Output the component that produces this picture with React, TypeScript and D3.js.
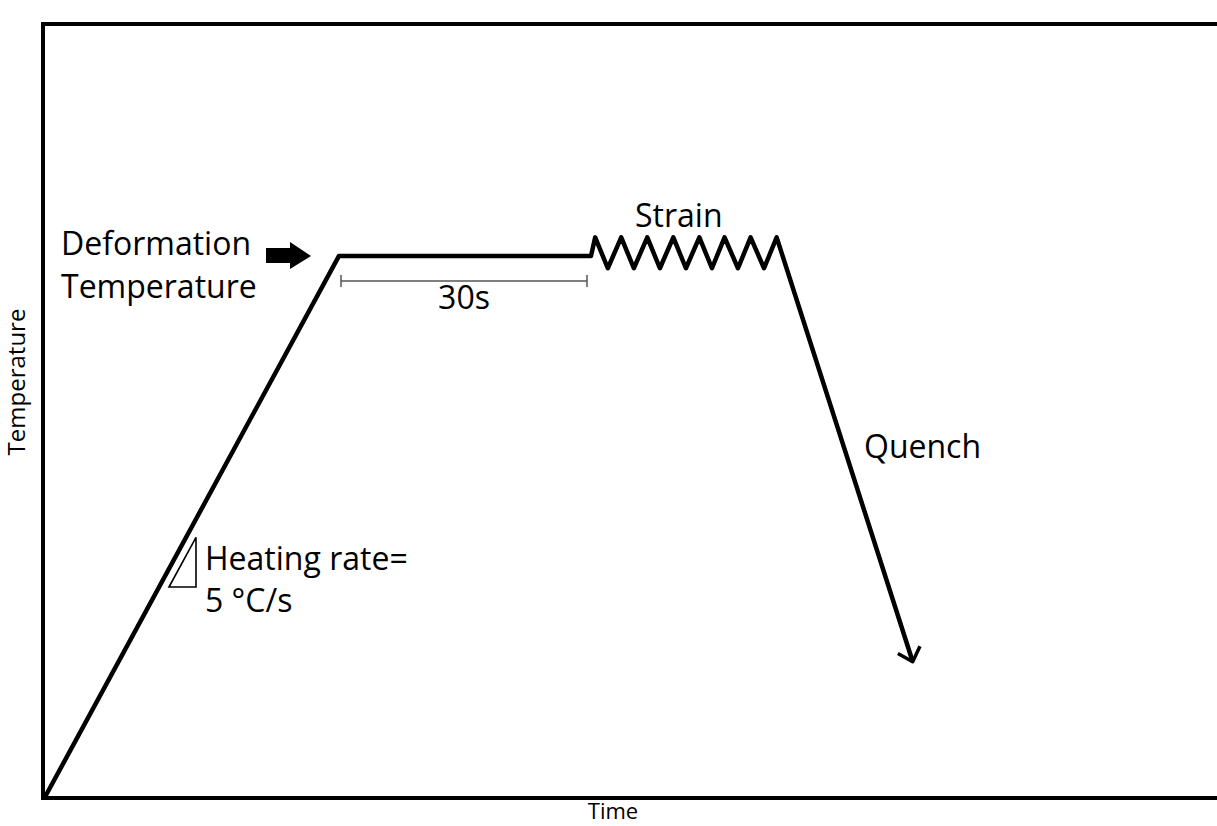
import React from "react";
import * as d3 from "d3";

// schematic thermal profile (time in s, temperature in % of plot height)
const rampTime = [0, 35];
const rampTemp = [0, 70];
const holdTime = [35, 65];
const holdTemp = [70, 70];
const strainTime = [65, 65.5, 67.0, 68.6, 70.1, 71.7, 73.2, 74.8, 76.3, 77.9, 79.4, 80.9, 82.5, 84.0, 85.6, 87.1];
const strainTemp = [70, 72.4, 68.4, 72.4, 68.4, 72.4, 68.4, 72.4, 68.4, 72.4, 68.4, 72.4, 68.4, 72.4, 68.4, 72.4];
const quenchTime = [87.1, 103.3];
const quenchTemp = [72.4, 17.5];

const W = 1217;
const H = 826;
const FONT = "'Open Sans', 'Noto Sans', sans-serif";

const x = d3.scaleLinear().domain([0, 140]).range([45, 1221]);
const y = d3.scaleLinear().domain([0, 100]).range([797, 24]);

const zip = (t, v) => t.map((d, i) => [d, v[i]]);

export default function App() {
  const line = d3.line().x(d => x(d[0])).y(d => y(d[1]));

  const profile = [
    ...zip(rampTime, rampTemp),
    ...zip(holdTime, holdTemp).slice(1),
    ...zip(strainTime, strainTemp).slice(1),
    ...zip(quenchTime, quenchTemp).slice(1),
  ];

  // quench arrow head
  const tip = [x(quenchTime[1]), y(quenchTemp[1])];
  const from = [x(quenchTime[0]), y(quenchTemp[0])];
  const ang = Math.atan2(tip[1] - from[1], tip[0] - from[0]);
  const barb = (a) => [tip[0] - 17 * Math.cos(ang + a), tip[1] - 17 * Math.sin(ang + a)];
  const b1 = barb(0.75);
  const b2 = barb(-0.75);

  // heating-rate triangle, hypotenuse parallel to the ramp
  const slope = (y(rampTemp[1]) - y(rampTemp[0])) / (x(rampTime[1]) - x(rampTime[0]));
  const triBL = [169, 587];
  const triTop = [196, 587 + slope * (196 - 169)];

  const holdY = y(holdTemp[0]);
  const brY = holdY + 25;
  const brX0 = x(holdTime[0]) + 2;
  const brX1 = x(holdTime[1]) - 4;

  const arrowY = holdY;

  return (
    <svg width={W} height={H} style={{ position: "fixed", left: 0, top: 0, background: "#fff" }}
      fontFamily={FONT}>
      <rect width={W} height={H} fill="#fff" />
      {/* frame, open on the right */}
      <path d={`M${W + 5},${y(100)} L${x(0) - 2},${y(100)} L${x(0) - 2},${y(0) + 1} L${W + 5},${y(0) + 1}`}
        fill="none" stroke="#000" strokeWidth={4} />

      <path d={line(profile)} fill="none" stroke="#000" strokeWidth={4.5} strokeLinejoin="round" />
      <path d={`M${b1[0]},${b1[1]} L${tip[0]},${tip[1]} L${b2[0]},${b2[1]}`}
        fill="none" stroke="#000" strokeWidth={3.5} strokeLinejoin="round" />

      {/* 30 s bracket */}
      <g stroke="#555" strokeWidth={1.5}>
        <line x1={brX0} x2={brX1} y1={brY} y2={brY} />
        <line x1={brX0} x2={brX0} y1={brY - 6} y2={brY + 6} />
        <line x1={brX1} x2={brX1} y1={brY - 6} y2={brY + 6} />
      </g>

      {/* block arrow */}
      <path d={`M266,${arrowY - 8} L290,${arrowY - 8} L290,${arrowY - 14} L311,${arrowY} L290,${arrowY + 13} L290,${arrowY + 7} L266,${arrowY + 7} Z`}
        fill="#000" />

      <path d={`M${triBL[0]},${triBL[1]} L${triTop[0]},${triTop[1]} L${triTop[0]},${triBL[1]} Z`}
        fill="none" stroke="#000" strokeWidth={1.6} />

      <g fontSize={32} fill="#000">
        <text x={61} y={255}>Deformation</text>
        <text x={61} y={298}>Temperature</text>
        <text x={(brX0 + brX1) / 2} y={309} textAnchor="middle">30s</text>
        <text x={635} y={227}>Strain</text>
        <text x={864} y={458}>Quench</text>
        <text x={205} y={570}>Heating rate=</text>
        <text x={205} y={612}>5 °C/s</text>
      </g>

      <text transform="translate(25,382) rotate(-90)" textAnchor="middle" fontSize={24}>Temperature</text>
      <text x={613} y={819} textAnchor="middle" fontSize={22}>Time</text>
    </svg>
  );
}
